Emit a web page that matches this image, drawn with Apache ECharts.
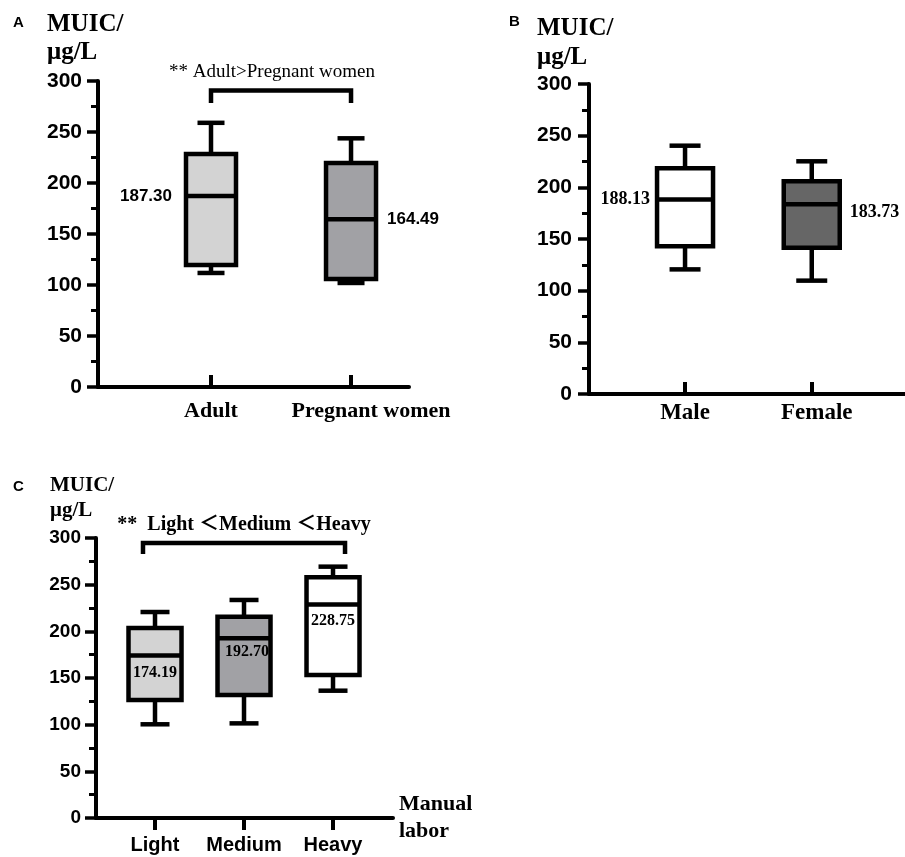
<!DOCTYPE html>
<html>
<head>
<meta charset="utf-8">
<script src="https://cdn.jsdelivr.net/npm/echarts@6/dist/echarts.min.js"></script>
<style>
html,body{margin:0;padding:0;background:#fff;}
#chart{width:905px;height:857px;}
</style>
</head>
<body>
<div id="chart"></div>
<script>
// ---------- data ----------
// each stat row: [lower whisker, Q1, median, Q3, upper whisker]
const categoriesA = ['Adult', 'Pregnant women'];
const statsA = [
  [111.8, 119.6, 187.30, 228.4, 259.0],
  [102.0, 106.0, 164.49, 219.6, 243.8]
];
const categoriesB = ['Male', 'Female'];
const statsB = [
  [120.6, 143.0, 188.13, 218.4, 240.3],
  [109.7, 141.6, 183.73, 206.0, 225.2]
];
const categoriesC = ['Light', 'Medium', 'Heavy'];
const statsC = [
  [100.4, 126.4, 174.19, 203.6, 220.7],
  [101.4, 131.8, 192.70, 215.7, 233.6],
  [136.4, 153.2, 228.75, 257.9, 269.3]
];
const yTicks = [0, 50, 100, 150, 200, 250, 300];
// significance brackets: [x left, x right, y of bar, y of leg ends]
const bracketA = [1, 2, 290.7, 278.4];
const bracketC = [0.865, 3.135, 294.6, 282.9];
const noteA = '** Adult>Pregnant women';
const noteC = '**  Light \uFF1CMedium \uFF1CHeavy';

// ---------- styles ----------
const fillsA = ['#d3d3d3', '#a1a1a5'];
const fillsB = ['#ffffff', '#666666'];
const fillsC = ['#d3d3d3', '#a1a1a5', '#ffffff'];
const SANS = 'Liberation Sans, Arial, sans-serif';
const SERIF = 'Liberation Serif, Times New Roman, serif';
const LW = 4.5;

const chart = echarts.init(document.getElementById('chart'), null, {renderer: 'canvas'});

function boxSeries(axisIdx, stats, fills, boxW, capW, label) {
  return {
    type: 'custom',
    xAxisIndex: axisIdx,
    yAxisIndex: axisIdx,
    data: stats.map((s, i) => [i + 1].concat(s)),
    encode: {x: 0, y: [1, 2, 3, 4, 5]},
    renderItem: function (params, api) {
      const x = api.value(0);
      const pLo = api.coord([x, api.value(1)]);
      const pQ1 = api.coord([x, api.value(2)]);
      const pMed = api.coord([x, api.value(3)]);
      const pQ3 = api.coord([x, api.value(4)]);
      const pHi = api.coord([x, api.value(5)]);
      const cx = pLo[0];
      const ls = {stroke: '#000', lineWidth: LW, lineCap: 'butt'};
      const L = (x1, y1, x2, y2) => ({type: 'line', shape: {x1, y1, x2, y2}, style: ls});
      const lb = label[params.dataIndex];
      let tx = cx, align = 'center';
      if (lb.side === 'left') { tx = cx - lb.dx; align = 'right'; }
      else if (lb.side === 'right') { tx = cx + lb.dx; align = 'left'; }
      else { tx = cx + (lb.dx || 0); }
      return {
        type: 'group',
        children: [
          L(cx, pQ3[1], cx, pHi[1]),
          L(cx - capW / 2, pHi[1], cx + capW / 2, pHi[1]),
          L(cx, pQ1[1], cx, pLo[1]),
          L(cx - capW / 2, pLo[1], cx + capW / 2, pLo[1]),
          {type: 'rect',
           shape: {x: cx - boxW / 2, y: pQ3[1], width: boxW, height: pQ1[1] - pQ3[1]},
           style: {fill: fills[params.dataIndex], stroke: '#000', lineWidth: LW, lineJoin: 'miter'}},
          L(cx - boxW / 2, pMed[1], cx + boxW / 2, pMed[1]),
          {type: 'text',
           style: {text: api.value(3).toFixed(2), x: tx, y: pMed[1] + (lb.dy || 0),
                   align: align, verticalAlign: 'middle',
                   fontFamily: lb.font, fontWeight: 'bold', fontSize: lb.size, fill: '#000'}}
        ]
      };
    }
  };
}

function bracketSeries(axisIdx, br) {
  return {
    type: 'custom',
    xAxisIndex: axisIdx,
    yAxisIndex: axisIdx,
    data: [br],
    silent: true,
    renderItem: function (params, api) {
      const a = api.coord([api.value(0), api.value(3)]);
      const b = api.coord([api.value(0), api.value(2)]);
      const c = api.coord([api.value(1), api.value(2)]);
      const d = api.coord([api.value(1), api.value(3)]);
      return {type: 'polyline', shape: {points: [a, b, c, d]},
              style: {stroke: '#000', lineWidth: LW, fill: null, lineJoin: 'miter'}};
    }
  };
}

function yAxisDef(grid, labelSize, margin) {
  return {
    type: 'value', gridIndex: grid, min: 0, max: 300, interval: 50,
    axisLine: {show: true, onZero: false, lineStyle: {color: '#000', width: 4}},
    axisTick: {show: true, length: 11, lineStyle: {color: '#000', width: 3.5}},
    minorTick: {show: true, splitNumber: 2, length: 7, lineStyle: {color: '#000', width: 3}},
    splitLine: {show: false},
    axisLabel: {margin: margin, color: '#000', fontFamily: SANS, fontWeight: 'bold', fontSize: labelSize,
                customValues: yTicks}
  };
}

function xAxisDef(grid, cats, min, max, opts) {
  const idx = cats.map((c, i) => i + 1);
  return Object.assign({
    type: 'value', gridIndex: grid, min: min, max: max,
    axisLine: {show: true, onZero: false, lineStyle: {color: '#000', width: 4}},
    axisTick: {show: true, customValues: idx, inside: opts.tickInside, length: 12,
               lineStyle: {color: '#000', width: 4}},
    splitLine: {show: false},
    axisLabel: {customValues: idx, margin: opts.margin, color: '#000',
                fontFamily: opts.font, fontWeight: 'bold', fontSize: opts.size,
                formatter: opts.formatter || (v => cats[Math.round(v) - 1]),
                rich: opts.rich}
  }, opts.extra || {});
}

const option = {
  backgroundColor: '#ffffff',
  animation: false,
  grid: [
    {left: 98, top: 81, width: 311, height: 306},
    {left: 589, top: 84, width: 316, height: 310},
    {left: 96, top: 538, width: 297, height: 280}
  ],
  xAxis: [
    xAxisDef(0, categoriesA, 0.193, 2.414, {
      tickInside: true, margin: 13, font: SERIF, size: 22,
      formatter: v => (Math.round(v) === 1 ? '{a|' : '{p|') + categoriesA[Math.round(v) - 1] + '}',
      rich: {a: {fontFamily: SERIF, fontWeight: 'bold', fontSize: 22, color: '#000'},
             p: {fontFamily: SERIF, fontWeight: 'bold', fontSize: 22, color: '#000', padding: [0, 0, 0, 40]}}
    }),
    xAxisDef(1, categoriesB, 0.242, 2.736, {
      tickInside: true, margin: 8, font: SERIF, size: 23,
      formatter: v => (Math.round(v) === 1 ? '{a|' : '{p|') + categoriesB[Math.round(v) - 1] + '}',
      rich: {a: {fontFamily: SERIF, fontWeight: 'bold', fontSize: 23, color: '#000'},
             p: {fontFamily: SERIF, fontWeight: 'bold', fontSize: 23, color: '#000', padding: [0, 0, 0, 10]}}
    }),
    xAxisDef(2, categoriesC, 0.337, 3.674, {
      tickInside: false, margin: 17, font: SANS, size: 20,
      extra: {name: 'Manual\nlabor', nameLocation: 'end', nameGap: 6,
              nameTextStyle: {fontFamily: SERIF, fontWeight: 'bold', fontSize: 22, color: '#000',
                              lineHeight: 27, align: 'left', verticalAlign: 'middle', padding: [16, 0, 0, 0]}}
    })
  ],
  yAxis: [
    yAxisDef(0, 21, 16),
    yAxisDef(1, 21, 17),
    yAxisDef(2, 19, 15)
  ],
  series: [
    boxSeries(0, statsA, fillsA, 50, 27, [
      {side: 'left', dx: 39, font: SANS, size: 17},
      {side: 'right', dx: 36, font: SANS, size: 17}
    ]),
    bracketSeries(0, bracketA),
    boxSeries(1, statsB, fillsB, 56, 31, [
      {side: 'left', dx: 35, font: SERIF, size: 18},
      {side: 'right', dx: 38, dy: 8, font: SERIF, size: 18}
    ]),
    boxSeries(2, statsC, fillsC, 53, 29, [
      {side: 'center', dy: 17, font: SERIF, size: 16},
      {side: 'center', dx: 3, dy: 14, font: SERIF, size: 16},
      {side: 'center', dy: 16, font: SERIF, size: 16}
    ]),
    bracketSeries(2, bracketC)
  ],
  graphic: [
    {type: 'text', left: 13, top: 15, style: {text: 'A', font: 'bold 15px ' + SANS, fill: '#000'}},
    {type: 'text', left: 509, top: 14, style: {text: 'B', font: 'bold 15px ' + SANS, fill: '#000'}},
    {type: 'text', left: 13, top: 479, style: {text: 'C', font: 'bold 15px ' + SANS, fill: '#000'}},
    {type: 'text', x: 47, y: 25, style: {text: 'MUIC/', fontFamily: SERIF, fontWeight: 'bold', fontSize: 25, fill: '#000', verticalAlign: 'middle'}},
    {type: 'text', x: 47, y: 53, style: {text: '\u03BCg/L', fontFamily: SERIF, fontWeight: 'bold', fontSize: 25, fill: '#000', verticalAlign: 'middle'}},
    {type: 'text', x: 537, y: 29, style: {text: 'MUIC/', fontFamily: SERIF, fontWeight: 'bold', fontSize: 25, fill: '#000', verticalAlign: 'middle'}},
    {type: 'text', x: 537, y: 58, style: {text: '\u03BCg/L', fontFamily: SERIF, fontWeight: 'bold', fontSize: 25, fill: '#000', verticalAlign: 'middle'}},
    {type: 'text', x: 50, y: 486, style: {text: 'MUIC/', fontFamily: SERIF, fontWeight: 'bold', fontSize: 21, fill: '#000', verticalAlign: 'middle'}},
    {type: 'text', x: 50, y: 511, style: {text: '\u03BCg/L', fontFamily: SERIF, fontWeight: 'bold', fontSize: 21, fill: '#000', verticalAlign: 'middle'}},
    {type: 'text', x: 272, y: 72, style: {text: noteA, fontFamily: SERIF, fontSize: 19, fill: '#000', align: 'center', verticalAlign: 'middle'}},
    {type: 'text', x: 244, y: 525, style: {text: noteC, fontFamily: 'Liberation Serif, Noto Sans CJK SC, serif', fontWeight: 'bold', fontSize: 20, fill: '#000', align: 'center', verticalAlign: 'middle'}}
  ]
};
chart.setOption(option);
</script>
</body>
</html>
